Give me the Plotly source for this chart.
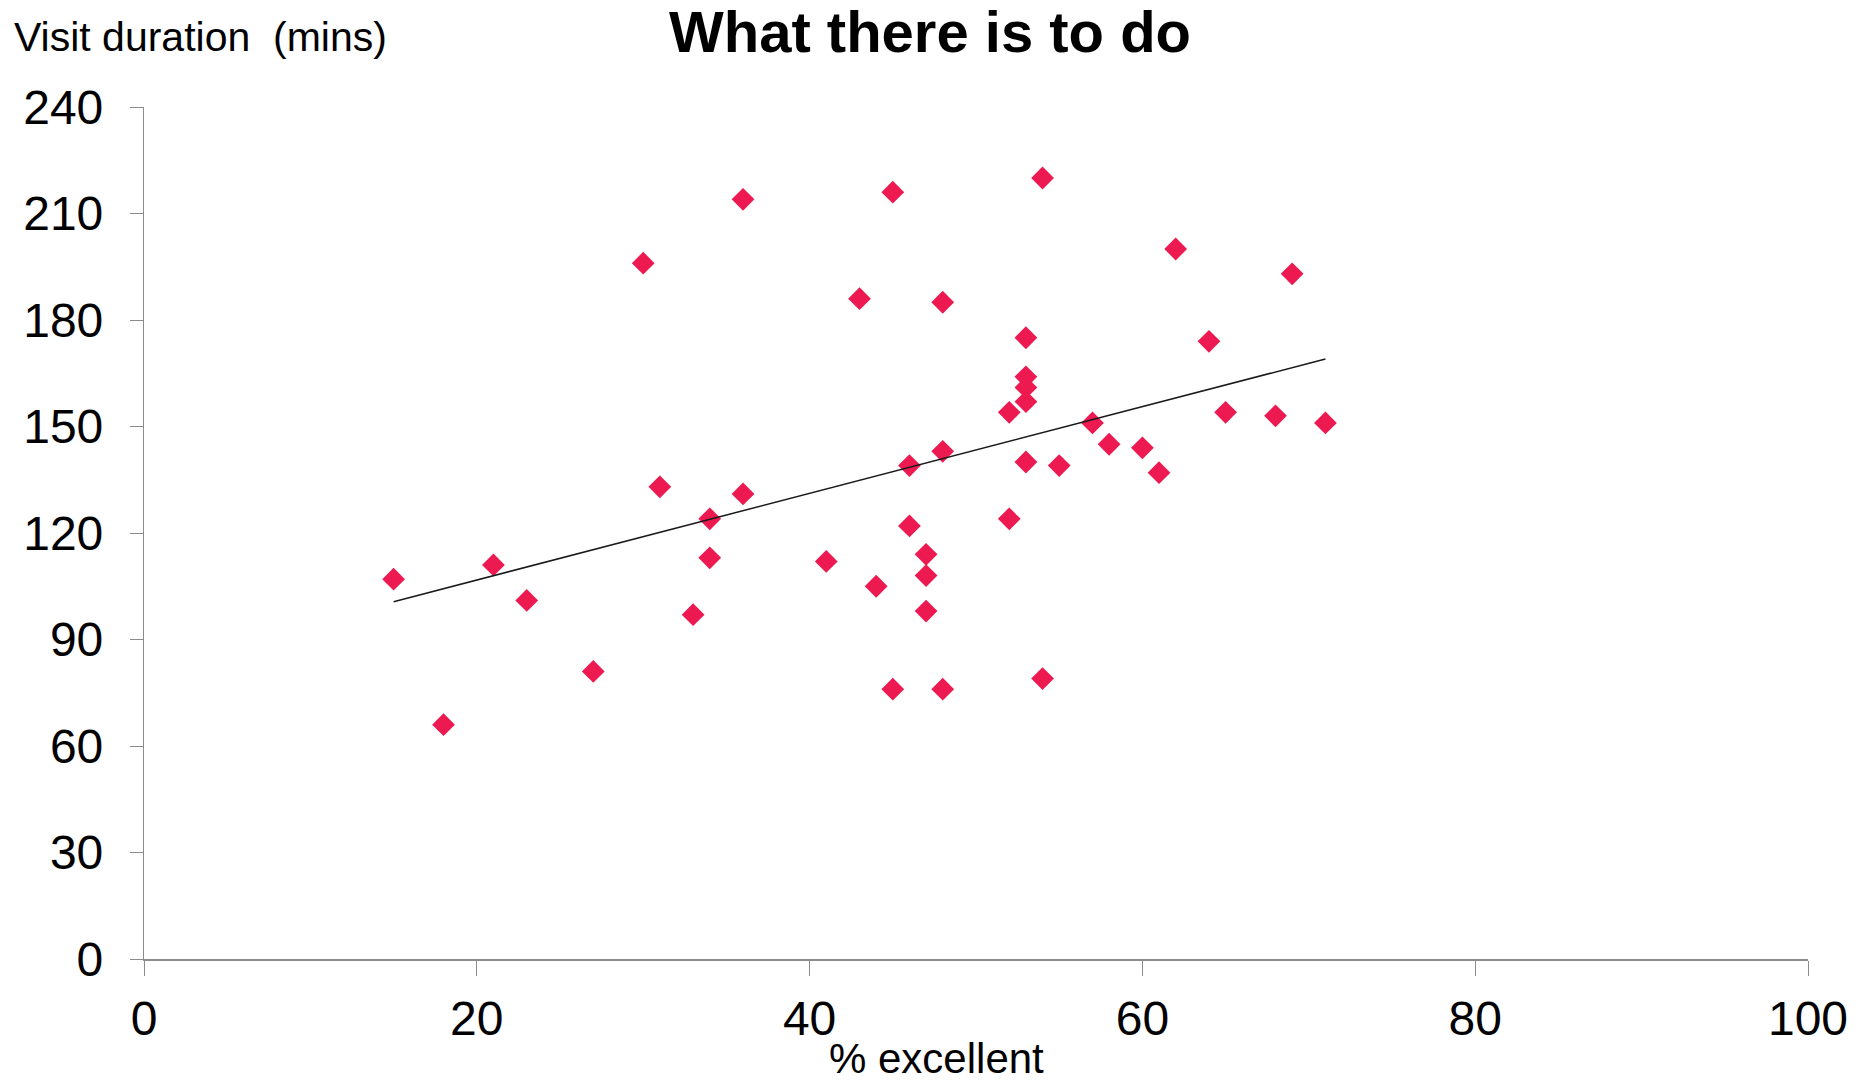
import numpy as np
import plotly.graph_objects as go

# % of visitors rating "what there is to do" as excellent, and mean visit duration
pct_excellent = [15, 18, 21, 23, 27, 30, 31, 33, 34, 34, 36, 36, 41, 43, 44,
                 45, 45, 46, 46, 47, 47, 47, 48, 48, 48, 52, 52, 53, 53, 53,
                 53, 53, 54, 54, 55, 57, 58, 60, 61, 62, 64, 65, 68, 69, 71]
visit_mins = [107, 66, 111, 101, 81, 196, 133, 97, 124, 113, 214, 131, 112, 186, 105,
              216, 76, 139, 122, 114, 108, 98, 185, 143, 76, 154, 124, 175, 164, 161,
              157, 140, 220, 79, 139, 151, 145, 144, 137, 200, 174, 154, 153, 193, 151]

x_ticks = [0, 20, 40, 60, 80, 100]
y_ticks = [0, 30, 60, 90, 120, 150, 180, 210, 240]

FONT = "Liberation Sans, Arial, sans-serif"

# least-squares trend line over the observed range
slope, intercept = np.polyfit(pct_excellent, visit_mins, 1)
trend_x = [min(pct_excellent), max(pct_excellent)]
trend_y = [slope * v + intercept for v in trend_x]

W, H = 1864, 1084
L, R, T, B = 144, 56, 107, 125
PW, PH = W - L - R, H - T - B


def px_x(px):
    return (px - L) / PW


def px_y(py):
    return (H - B - py) / PH


fig = go.Figure()
fig.add_trace(go.Scatter(
    x=pct_excellent, y=visit_mins, mode="markers",
    marker=dict(symbol="diamond", size=17.5, color="#EC1A50", line=dict(width=0)),
    showlegend=False,
))
fig.add_trace(go.Scatter(
    x=trend_x, y=trend_y, mode="lines",
    line=dict(color="#1a1a1a", width=1.5),
    showlegend=False,
))

fig.update_layout(
    width=W, height=H,
    margin=dict(l=L, r=R, t=T, b=B),
    paper_bgcolor="white", plot_bgcolor="white",
    font=dict(family=FONT, color="black"),
    xaxis=dict(
        range=[0, 100], tickvals=x_ticks, showgrid=False, zeroline=False,
        showline=True, linecolor="#8c8c8c", linewidth=1.5,
        ticks="outside", ticklen=15, tickcolor="#8c8c8c", tickwidth=1,
        tickfont=dict(size=48, family=FONT), ticklabelstandoff=2,
    ),
    yaxis=dict(
        range=[0, 240], tickvals=y_ticks, showgrid=False, zeroline=False,
        showline=True, linecolor="#8c8c8c", linewidth=1.2,
        ticks="outside", ticklen=13, tickcolor="#8c8c8c", tickwidth=1,
        tickfont=dict(size=48, family=FONT), ticklabelstandoff=17,
    ),
    annotations=[
        dict(text="<b>What there is to do</b>", xref="paper", yref="paper",
             x=px_x(930), y=px_y(31), xanchor="center", yanchor="middle",
             showarrow=False, font=dict(size=58, family=FONT, color="black")),
        dict(text="Visit duration  (mins)", xref="paper", yref="paper",
             x=px_x(12), y=px_y(37), xanchor="left", yanchor="middle",
             showarrow=False, font=dict(size=41, family=FONT, color="black")),
        dict(text="% excellent", xref="paper", yref="paper",
             x=px_x(936), y=px_y(1058), xanchor="center", yanchor="middle",
             showarrow=False, font=dict(size=42, family=FONT, color="black")),
    ],
)

fig.write_html("out.html")
